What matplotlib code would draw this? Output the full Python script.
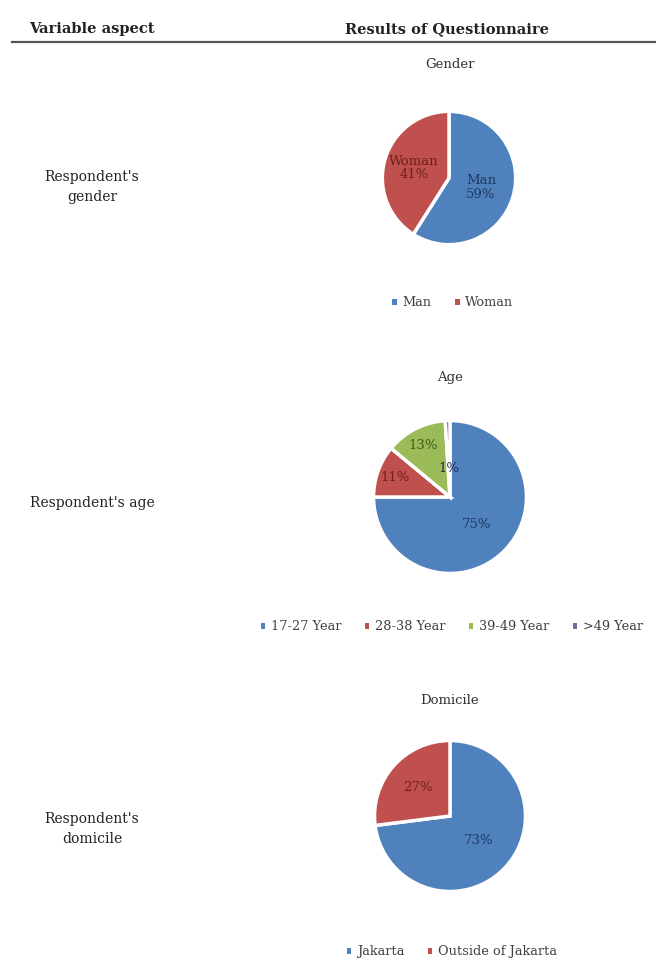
import matplotlib
matplotlib.use("Agg")
import matplotlib.pyplot as plt
from matplotlib.patches import Patch
import numpy as np

W, H = 656, 960

# questionnaire results (percent)
gender_labels = ["Man", "Woman"]
gender_values = [59, 41]

age_labels = ["17-27 Year", "28-38 Year", "39-49 Year", ">49 Year"]
age_values = [75, 11, 13, 1]

domicile_labels = ["Jakarta", "Outside of Jakarta"]
domicile_values = [73, 27]

row_labels = ["Respondent's\ngender", "Respondent's age", "Respondent's\ndomicile"]
chart_titles = ["Gender", "Age", "Domicile"]

COLORS = ["#4F81BD", "#C0504D", "#9BBB59", "#8064A2"]
DARK = ["#1F3A63", "#6E1F1C", "#3E5A1C", "#2E2350"]

plt.rcParams["font.family"] = ["DejaVu Serif"]

fig = plt.figure(figsize=(W / 100, H / 100), dpi=100)


def fx(x):
    return x / W


def fy(y):
    return 1 - y / H


def draw_pie(values, labels, cx, cy, r, dists, with_names=False):
    ax = fig.add_axes([fx(cx - r), fy(cy + r), 2 * r / W, 2 * r / H])
    wedges, _ = ax.pie(values, colors=COLORS[:len(values)], startangle=90,
                       counterclock=False,
                       wedgeprops=dict(edgecolor="white", linewidth=2.5))
    for i, w in enumerate(wedges):
        mid = np.deg2rad((w.theta1 + w.theta2) / 2)
        txt = "%d%%" % values[i]
        if with_names:
            txt = labels[i] + "\n" + txt
        ax.text(dists[i] * np.cos(mid), dists[i] * np.sin(mid), txt,
                ha="center", va="center", fontsize=9.5, color=DARK[i],
                linespacing=1.05)
    ax.set_xlim(-1.02, 1.02)
    ax.set_ylim(-1.02, 1.02)
    ax.set_aspect("equal")
    ax.axis("off")
    return ax


def draw_legend(labels, cx, cy):
    handles = [Patch(facecolor=COLORS[i], edgecolor="none", label=l)
               for i, l in enumerate(labels)]
    fig.legend(handles=handles, loc="center", bbox_to_anchor=(fx(cx), fy(cy)),
               ncol=len(labels), frameon=False, fontsize=9.3,
               handlelength=0.35, handleheight=0.35, handletextpad=0.45,
               columnspacing=1.8, labelcolor="#404040")


# header
fig.text(fx(92), fy(29), "Variable aspect", ha="center", va="center",
         fontsize=10.5, fontweight="bold", color="#222222")
fig.text(fx(447), fy(29), "Results of Questionnaire", ha="center", va="center",
         fontsize=10.5, fontweight="bold", color="#222222")
fig.add_artist(plt.Line2D([fx(12), fx(656)], [fy(42), fy(42)],
                          color="#555555", linewidth=1.6))

# gender
fig.text(fx(450), fy(64), chart_titles[0], ha="center", va="center",
         fontsize=9.5, color="#333333")
draw_pie(gender_values, gender_labels, 449, 178, 68, [0.5, 0.55], with_names=True)
draw_legend(gender_labels, 453, 303)
fig.text(fx(92), fy(187), row_labels[0], ha="center", va="center",
         fontsize=10, color="#222222", linespacing=1.6)

# age
fig.text(fx(450), fy(378), chart_titles[1], ha="center", va="center",
         fontsize=9.5, color="#333333")
draw_pie(age_values, age_labels, 450, 497, 78, [0.5, 0.76, 0.76, 0.37])
draw_legend(age_labels, 452, 627)
fig.text(fx(92), fy(503), row_labels[1], ha="center", va="center",
         fontsize=10, color="#222222")

# domicile
fig.text(fx(450), fy(700), chart_titles[2], ha="center", va="center",
         fontsize=9.5, color="#333333")
draw_pie(domicile_values, domicile_labels, 450, 816, 77, [0.5, 0.57])
draw_legend(domicile_labels, 452, 952)
fig.text(fx(92), fy(829), row_labels[2], ha="center", va="center",
         fontsize=10, color="#222222", linespacing=1.6)

fig.savefig("out.png", dpi=100)
